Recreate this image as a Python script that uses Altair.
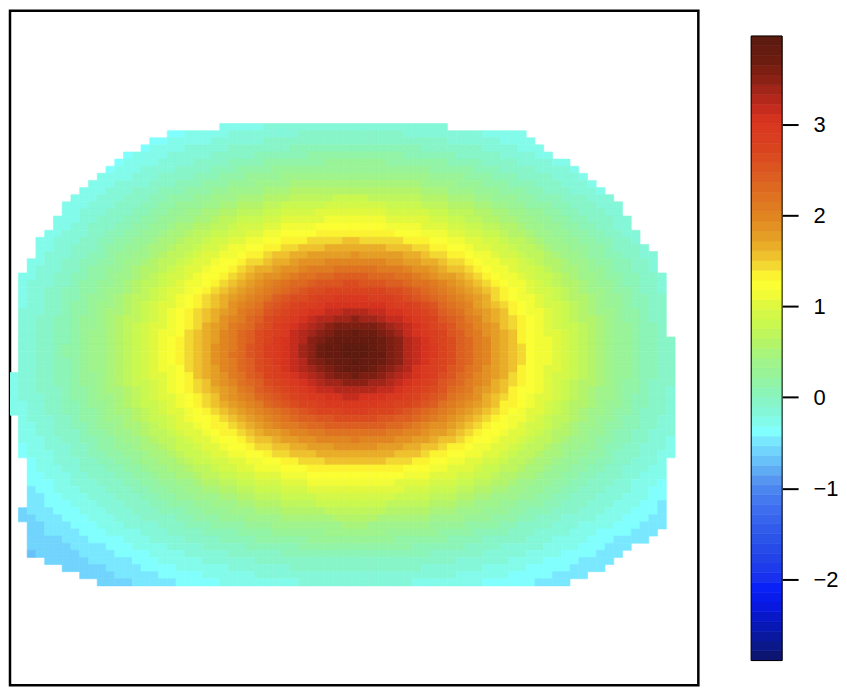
import altair as alt
import numpy as np
import pandas as pd

# ---------------- data ----------------
# raster geometry (image units of the original plot)
GRID_X0, CELL_W = 2.66, 8.84
GRID_Y0, CELL_H = 119.0, 7.32
FRAME_X = [3, 698]
FRAME_Y = [3, 697]

# filled columns of each raster row (first, last), top row first
ROW_LEFT = [24, 18, 16, 15, 13, 12, 11, 10, 9, 8, 7, 6, 6, 5, 5, 4, 3, 3, 3, 2, 2,
            1, 1, 1, 1, 1, 1, 1, 1, 1,
            1, 1, 1, 1, 1,
            0, 0, 0, 0, 0, 0,
            1, 1, 1, 1, 1, 1,
            2, 2, 2, 2, 2, 2, 2,
            1, 1,
            2, 2, 2, 2, 2, 4, 6, 8, 10]
ROW_RIGHT = [49, 58, 59, 60, 61, 63, 64, 65, 66, 67, 68, 69, 69, 70, 70, 71, 71, 72, 73, 73, 73,
             74, 74, 74, 74, 74, 74, 74, 74, 74,
             75, 75, 75, 75, 75,
             75, 75, 75, 75, 75, 75,
             75, 75, 75, 75, 75, 75,
             74, 74, 74, 74, 74, 74, 74,
             74, 74,
             74, 73, 72, 70, 69, 68, 67, 65, 63]

# field: peak position, vertical stretch, and value against (stretched) distance from the peak
PEAK_X, PEAK_Y, Y_STRETCH = 351.0, 354.0, 1.42
PROFILE_D = [0, 15, 30, 45, 60, 75, 95, 115, 135, 155, 172, 190, 205, 230, 255, 280, 305,
             330, 355, 380, 410, 440, 470]
PROFILE_V = [3.93, 3.88, 3.74, 3.50, 3.22, 3.00, 2.68, 2.30, 1.93, 1.62, 1.36, 1.14, 0.99,
             0.70, 0.42, 0.20, 0.00, -0.15, -0.28, -0.42, -0.55, -0.65, -0.72]

# colour bar
ZMIN, ZMAX = -2.896, 3.976
N_LEVELS = 64
TICKS = [-2, -1, 0, 1, 2, 3]
KEY_V = [-2.85, -2.7, -2.5, -2.3, -2.1, -2.0, -1.8, -1.6, -1.4, -1.2, -1.0, -0.9, -0.7, -0.5,
         -0.38, -0.2, 0.0, 0.2, 0.4, 0.6, 0.8, 1.0, 1.1, 1.3, 1.42, 1.5, 1.65, 1.8, 2.0, 2.2,
         2.4, 2.6, 2.8, 3.05, 3.2, 3.35, 3.5, 3.7, 3.93]
KEY_C = ["#0c1670", "#0a1890", "#0818b8", "#0818e0", "#0820f8", "#1830f0", "#2040e8", "#2850e8",
         "#3460ec", "#4070f0", "#4c88f0", "#5898f0", "#68c0f8", "#78e4ff",
         "#80ffff", "#84f8e0", "#88f4c0", "#94f4a0", "#a0f488", "#b4f468", "#c8f850", "#dcf840",
         "#eefc38", "#ffff30", "#f4e030", "#f0cc30", "#eab028", "#e49a24", "#e08420", "#de7220",
         "#dc6020", "#da4e20", "#d8401f", "#d8341f", "#c02a1c", "#a8261a", "#8a2014", "#6e1c10",
         "#5c1a0e"]

# ---------------- tables for the library ----------------
def hex2rgb(h):
    return np.array([int(h[i:i + 2], 16) for i in (1, 3, 5)], dtype=float)

key_rgb = np.array([hex2rgb(c) for c in KEY_C])
edges = np.linspace(ZMIN, ZMAX, N_LEVELS + 1)
mids = (edges[:-1] + edges[1:]) / 2
PALETTE = []
for m in mids:
    rgb = [np.interp(m, KEY_V, key_rgb[:, i]) for i in range(3)]
    PALETTE.append("#%02x%02x%02x" % tuple(int(round(v)) for v in rgb))

rows = []
for k, (lo, hi) in enumerate(zip(ROW_LEFT, ROW_RIGHT)):
    y0 = GRID_Y0 + CELL_H * k
    for c in range(lo, hi + 1):
        x0 = GRID_X0 + CELL_W * c
        xc, yc = x0 + CELL_W / 2, y0 + CELL_H / 2
        d = np.hypot(xc - PEAK_X, Y_STRETCH * (yc - PEAK_Y))
        rows.append({"x0": x0, "x1": x0 + CELL_W, "y0": y0, "y1": y0 + CELL_H,
                     "value": float(np.interp(d, PROFILE_D, PROFILE_V))})
cells = pd.DataFrame(rows)

color_scale = alt.Scale(type="quantize", domain=[ZMIN, ZMAX], range=PALETTE, nice=False)

MAIN_W, MAIN_H = 690, 676
main = alt.Chart(cells).mark_rect(clip=True, strokeWidth=0.6).encode(
    x=alt.X("x0:Q", scale=alt.Scale(domain=FRAME_X, nice=False, zero=False), axis=None),
    x2="x1:Q",
    y=alt.Y("y0:Q", scale=alt.Scale(domain=FRAME_Y, nice=False, zero=False, reverse=True), axis=None),
    y2="y1:Q",
    color=alt.Color("value:Q", scale=color_scale, legend=None),
    stroke=alt.Stroke("value:Q", scale=color_scale, legend=None),
).properties(width=MAIN_W, height=MAIN_H,
             view=alt.ViewBackground(stroke="black", strokeWidth=2.5))

# colour bar panel: bar spans page y 36.3..662.3; the panel starts about 11px down the page
bar_top, bar_bot = 36.3 - 11, 662.3 - 11
ppu = (bar_bot - bar_top) / (ZMAX - ZMIN)
cb_hi = ZMAX + bar_top / ppu
cb_lo = ZMIN - (MAIN_H - bar_bot) / ppu

cb = pd.DataFrame({"lo": edges[:-1], "hi": edges[1:], "value": mids})
cb_y = alt.Scale(domain=[cb_lo, cb_hi], nice=False, zero=False)
bar = alt.Chart(cb).mark_rect(strokeWidth=0.6).encode(
    x=alt.value(0), x2=alt.value(31),
    y=alt.Y("lo:Q", scale=cb_y,
            axis=alt.Axis(orient="right", values=TICKS, format="d", domain=False, grid=False,
                          tickColor="black", tickWidth=2, tickSize=16,
                          labelFont="Liberation Sans", labelFontSize=22, labelColor="black",
                          labelPadding=15, title=None)),
    y2="hi:Q",
    color=alt.Color("value:Q", scale=color_scale, legend=None),
    stroke=alt.Stroke("value:Q", scale=color_scale, legend=None),
)
frame = alt.Chart(pd.DataFrame({"lo": [ZMIN], "hi": [ZMAX]})).mark_rect(
    fill=None, stroke="black", strokeWidth=1).encode(
    x=alt.value(0), x2=alt.value(31),
    y=alt.Y("lo:Q", scale=cb_y), y2="hi:Q")
colorbar = alt.layer(bar, frame).properties(width=31, height=MAIN_H)

chart = alt.hconcat(main, colorbar, spacing=50).properties(
    padding=0, background="white"
).configure_view(stroke=None)

chart.save("out.html", embed_options={"renderer": "svg", "actions": False})
